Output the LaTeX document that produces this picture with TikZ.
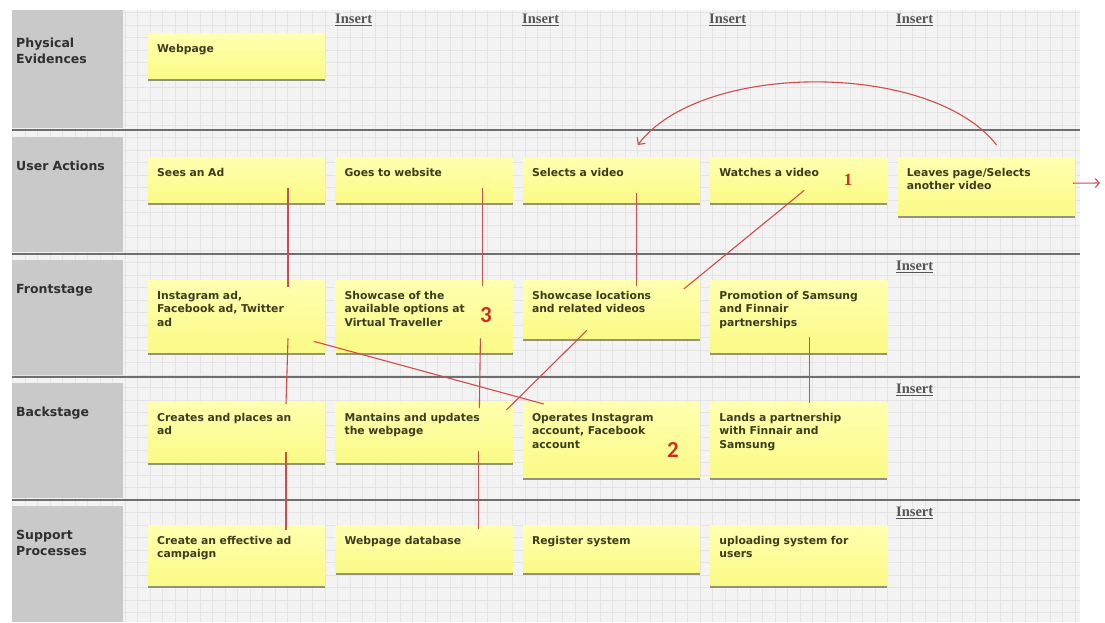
\documentclass[tikz,border=0pt]{standalone}
\usepackage{fontspec}
\setmainfont{DejaVu Sans}
\newfontfamily\insertfont{Liberation Serif}
\newfontfamily\numfont{Carlito}
\usetikzlibrary{positioning,arrows.meta,shadows}

\definecolor{bggray}{HTML}{F3F3F3}
\definecolor{gridgray}{HTML}{E4E4E4}
\definecolor{lanegray}{HTML}{C9C9C9}
\definecolor{lanetext}{HTML}{303030}
\definecolor{sepgray}{HTML}{6E6E6E}
\definecolor{notetop}{HTML}{FFFFB0}
\definecolor{notebot}{HTML}{FAFA86}
\definecolor{notetext}{HTML}{3C3C1E}
\definecolor{shadowgray}{HTML}{7A7A60}
\definecolor{insertgray}{HTML}{555555}
\definecolor{linkred}{HTML}{D14B4B}
\definecolor{numred}{HTML}{C8321E}

\begin{document}
\begin{tikzpicture}[x=1pt,y=-1pt,
  note/.style={anchor=north west,align=left,text width=159pt,inner xsep=9pt,inner ysep=0pt,
    text height=19pt,text depth=#1,top color=notetop,bottom color=notebot,
    drop shadow={shadow xshift=0pt,shadow yshift=-2.5pt,fill=shadowgray,opacity=.8},
    font=\fontsize{10.8}{13.5}\selectfont\bfseries,text=notetext},
  note/.default=26pt,
  lane/.style={anchor=north west,align=left,fill=lanegray,text width=103pt,inner xsep=4pt,
    inner ysep=0pt,text height=33pt,text depth=#1,
    font=\fontsize{12.5}{16.5}\selectfont\bfseries,text=lanetext},
  lane/.default=82pt,
  insert/.style={anchor=west,inner sep=0pt,text=insertgray,
    font=\insertfont\fontsize{14.5}{16}\selectfont\bfseries},
  number/.style={text=numred,inner sep=0pt},
  link/.style={draw=linkred,line width=1.1pt},
  sepline/.style={draw=sepgray,line width=1.5pt}]

\useasboundingbox (0,0) rectangle (1105,622);

% background board
\fill[bggray] (12,10) rectangle (1080,622);
\draw[gridgray,step=12.5pt,line width=.5pt] (12,10) grid (1080,622);

% lanes
\node[lane=81pt,text height=37pt,minimum height=118pt] (pe) at (12,10) {Physical\\Evidences};
\node[lane] (ua) at (12,137) {User Actions};
\node[lane] (fs) at (12,260) {Frontstage};
\node[lane] (bs) at (12,383) {Backstage};
\node[lane=83pt] (sp) at (12,506) {Support\\Processes};

\draw[sepline] (12,130) -- (1080,130);
\draw[sepline] (12,254) -- (1080,254);
\draw[sepline] (12,377) -- (1080,377);
\draw[sepline] (12,500) -- (1080,500);

% insert links
\node[insert] (ins1) at (335,20) {\underline{Insert}};
\node[insert] (ins2) at (522,20) {\underline{Insert}};
\node[insert] (ins3) at (709,20) {\underline{Insert}};
\node[insert] (ins4) at (896,20) {\underline{Insert}};
\node[insert] (ins5) at (896,267) {\underline{Insert}};
\node[insert] (ins6) at (896,390) {\underline{Insert}};
\node[insert] (ins7) at (896,513) {\underline{Insert}};

% physical evidences
\node[note] (webpage) at (148,33) {Webpage};

% user actions
\node[note] (seesad) at (148,157) {Sees an Ad};
\node[note] (website) [right=10pt of seesad.north east,anchor=north west] {Goes to website};
\node[note] (selvid) [right=10pt of website.north east,anchor=north west] {Selects a video};
\node[note] (watch) [right=10pt of selvid.north east,anchor=north west] {Watches a video};
\node[note=39pt] (leave) [right=10pt of watch.north east,anchor=north west] {Leaves page/Selects\\another video};

% frontstage
\node[note=53pt] (igad) at (148,280) {Instagram ad,\\Facebook ad, Twitter\\ad};
\node[note=53pt] (options) [right=10pt of igad.north east,anchor=north west] {Showcase of the\\available options at\\Virtual Traveller};
\node[note=39pt] (locations) [right=10pt of options.north east,anchor=north west] {Showcase locations\\and related videos};
\node[note=53pt] (promo) [right=10pt of locations.north east,anchor=north west] {Promotion of Samsung\\and Finnair\\partnerships};

% backstage
\node[note=41pt] (createad) at (148,402) {Creates and places an\\ad};
\node[note=41pt] (maintain) [right=10pt of createad.north east,anchor=north west] {Mantains and updates\\the webpage};
\node[note=56pt] (operate) [right=10pt of maintain.north east,anchor=north west] {Operates Instagram\\account, Facebook\\account};
\node[note=56pt] (partner) [right=10pt of operate.north east,anchor=north west] {Lands a partnership\\with Finnair and\\Samsung};

% support processes
\node[note=41pt] (campaign) at (148,525) {Create an effective ad\\campaign};
\node[note=28pt] (database) [right=10pt of campaign.north east,anchor=north west] {Webpage database};
\node[note=28pt] (register) [right=10pt of database.north east,anchor=north west] {Register system};
\node[note=41pt] (upload) [right=10pt of register.north east,anchor=north west] {uploading system for\\users};

% numbers
\node[number,font=\insertfont\fontsize{17}{17}\selectfont\bfseries] (num1) at (848,180) {1};
\node[number,font=\numfont\fontsize{23}{23}\selectfont\bfseries] (num3) at (486,315) {3};
\node[number,font=\numfont\fontsize{23}{23}\selectfont\bfseries] (num2) at (673,450) {2};

% connections
\draw[link] ([xshift=140pt,yshift=14pt]seesad.south west) -- ([xshift=140pt,yshift=-7pt]igad.north west);
\draw[link] ([xshift=140pt,yshift=14pt]igad.south west) -- ([xshift=138pt,yshift=-2pt]createad.north west);
\draw[link] ([xshift=138pt,yshift=10pt]createad.south west) -- ([xshift=138pt,yshift=-5pt]campaign.north west);

\draw[link] ([xshift=147pt,yshift=14pt]website.south west) -- ([xshift=147pt,yshift=-6pt]options.north west);
\draw[link] ([xshift=145pt,yshift=14pt]options.south west) -- ([xshift=144pt,yshift=-6pt]maintain.north west);
\draw[link] ([xshift=143pt,yshift=11pt]maintain.south west) -- ([xshift=143pt,yshift=-4pt]database.north west);

\draw[link] ([xshift=114pt,yshift=9pt]selvid.south west) -- ([xshift=114pt,yshift=-6pt]locations.north west);
\draw[link] ([xshift=99pt,yshift=15pt]promo.south west) -- ([xshift=99pt,yshift=-1pt]partner.north west);

\draw[link] ([xshift=94pt,yshift=12pt]watch.south west) -- ([xshift=161pt,yshift=-9pt]locations.north west);
\draw[link] ([xshift=64pt,yshift=8pt]locations.south west) -- ([xshift=171pt,yshift=-8pt]maintain.north west);
\draw[link] ([xshift=166pt,yshift=11pt]igad.south west) -- ([xshift=21pt,yshift=-2pt]operate.north west);

\draw[link,-{Straight Barb[length=5pt,width=10pt]}] ([xshift=99pt,yshift=12pt]leave.north west)
  .. controls +(-65,-84) and +(63,-84) .. ([xshift=115pt,yshift=12pt]selvid.north west);

\coordinate (exit) at (1100,183);
\draw[link,-{Straight Barb[length=4pt,width=9pt]}] ([xshift=-2pt,yshift=3pt]leave.east) -- (exit);
\end{tikzpicture}
\end{document}
